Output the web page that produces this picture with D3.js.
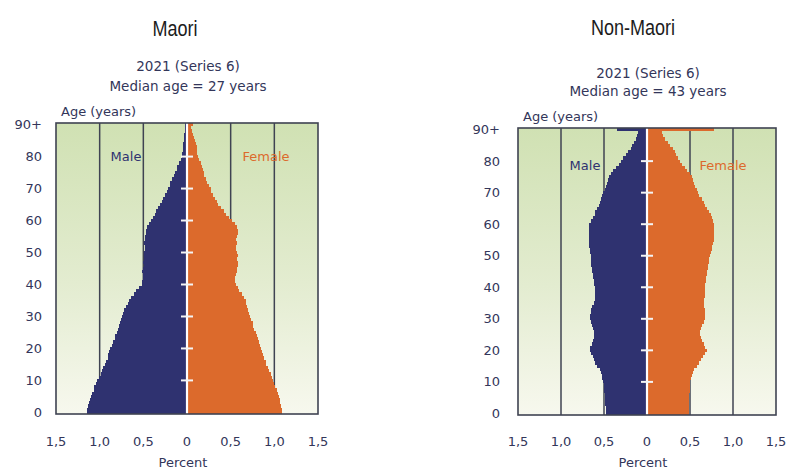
<!DOCTYPE html>
<html><head><meta charset="utf-8">
<script src="https://cdn.jsdelivr.net/npm/d3@7"></script>
<style>
html,body{margin:0;padding:0;background:#fff;}
svg{display:block;}
</style></head>
<body>
<svg id="chart" width="787" height="470"></svg>
<script>
// ---- DATA ----
const ages = d3.range(0, 91); // 0..90 (90 = 90+)
const yTickLabels = ["0","10","20","30","40","50","60","70","80","90+"];
const yTickAges = [0,10,20,30,40,50,60,70,80,90];
const xTickValues = [-1.5,-1,-0.5,0,0.5,1,1.5];
const xTickLabels = ["1,5","1,0","0,5","0","0,5","1,0","1,5"];
const panelTitles = ["Maori","Non-Maori"];
const panelSubtitles = ["2021 (Series 6)","2021 (Series 6)"];
const medianLabels = ["Median age = 27 years","Median age = 43 years"];

const maoriMale = [
 1.15,1.14,1.13,1.12,1.11,1.10,1.09,1.07,1.06,1.04,
 1.03,1.01,0.99,0.97,0.96,0.94,0.93,0.91,0.90,0.89,
 0.88,0.86,0.85,0.83,0.82,0.80,0.79,0.78,0.77,0.76,
 0.75,0.73,0.72,0.70,0.68,0.66,0.64,0.61,0.58,0.55,
 0.52,0.51,0.50,0.50,0.51,0.50,0.49,0.50,0.49,0.49,
 0.49,0.48,0.48,0.49,0.48,0.48,0.47,0.47,0.46,0.44,
 0.41,0.39,0.37,0.35,0.33,0.31,0.29,0.27,0.25,0.23,
 0.22,0.20,0.19,0.17,0.15,0.14,0.12,0.11,0.09,0.07,
 0.06,0.055,0.05,0.05,0.045,0.04,0.035,0.03,0.025,0.02,0.02];
const maoriFemale = [
 1.09,1.09,1.08,1.07,1.06,1.05,1.04,1.03,1.01,1.00,
 0.99,0.97,0.96,0.94,0.93,0.91,0.90,0.88,0.87,0.86,
 0.85,0.84,0.83,0.81,0.80,0.79,0.77,0.76,0.75,0.73,
 0.72,0.71,0.70,0.69,0.68,0.67,0.65,0.63,0.60,0.58,
 0.56,0.55,0.55,0.56,0.57,0.57,0.58,0.58,0.57,0.58,
 0.57,0.56,0.56,0.57,0.56,0.57,0.58,0.58,0.57,0.55,
 0.51,0.48,0.45,0.42,0.39,0.36,0.34,0.32,0.30,0.28,
 0.27,0.25,0.23,0.22,0.20,0.19,0.18,0.17,0.16,0.14,
 0.13,0.12,0.12,0.11,0.10,0.09,0.08,0.07,0.06,0.05,0.07];
const nonMaoriMale = [
 0.48,0.48,0.48,0.49,0.49,0.49,0.49,0.50,0.50,0.50,
 0.51,0.52,0.52,0.53,0.55,0.58,0.60,0.62,0.63,0.65,
 0.66,0.66,0.64,0.63,0.62,0.62,0.62,0.63,0.64,0.65,
 0.66,0.66,0.65,0.65,0.64,0.62,0.61,0.61,0.61,0.61,
 0.61,0.62,0.62,0.63,0.63,0.64,0.64,0.65,0.65,0.65,
 0.65,0.66,0.66,0.67,0.67,0.68,0.68,0.68,0.68,0.67,
 0.67,0.65,0.63,0.61,0.60,0.58,0.56,0.55,0.53,0.52,
 0.51,0.49,0.48,0.46,0.45,0.44,0.42,0.39,0.36,0.33,
 0.30,0.28,0.25,0.22,0.19,0.17,0.15,0.13,0.12,0.11,0.35];
const nonMaoriFemale = [
 0.49,0.49,0.49,0.49,0.49,0.49,0.49,0.50,0.50,0.50,
 0.50,0.51,0.52,0.53,0.55,0.58,0.61,0.63,0.65,0.67,
 0.70,0.68,0.66,0.64,0.63,0.62,0.62,0.63,0.64,0.66,
 0.68,0.68,0.67,0.67,0.66,0.66,0.66,0.67,0.67,0.68,
 0.68,0.68,0.69,0.69,0.70,0.70,0.71,0.71,0.72,0.72,
 0.73,0.74,0.75,0.76,0.77,0.78,0.78,0.78,0.78,0.78,
 0.78,0.77,0.76,0.74,0.72,0.70,0.68,0.66,0.64,0.61,
 0.59,0.58,0.56,0.55,0.54,0.52,0.50,0.47,0.44,0.41,
 0.38,0.36,0.34,0.32,0.30,0.27,0.24,0.21,0.19,0.17,0.78];

// ---- LAYOUT ----
const panels = [
  {title: panelTitles[0], sub: panelSubtitles[0], median: medianLabels[0], male: maoriMale, female: maoriFemale,
   x0: 56, x1: 318, top: 123, bottom: 414, titleX: 175, titleY: 36, subY: 71, medY: 91, ageLabY: 116, labelRight: 42, maleLab:[126,161], femLab:[266,161]},
  {title: panelTitles[1], sub: panelSubtitles[1], median: medianLabels[1], male: nonMaoriMale, female: nonMaoriFemale,
   x0: 518, x1: 776, top: 128, bottom: 415, titleX: 633, titleY: 35, subY: 78, medY: 96, ageLabY: 121, labelRight: 500, maleLab:[585,170], femLab:[723,170]}
];

const svg = d3.select("#chart");
const defs = svg.append("defs");
const grad = defs.append("linearGradient").attr("id","bg").attr("x1",0).attr("y1",0).attr("x2",0).attr("y2",1);
grad.append("stop").attr("offset","0%").attr("stop-color","#d0e1b3");
grad.append("stop").attr("offset","55%").attr("stop-color","#e3ecd0");
grad.append("stop").attr("offset","100%").attr("stop-color","#f7f8ee");

const navy = "#2f3270", orange = "#dc6a2c", frameCol = "#3f4352", txtCol = "#33365a";
const mainFont = "'DejaVu Sans', sans-serif";

panels.forEach(p => {
  const x = d3.scaleLinear().domain([-1.5,1.5]).range([p.x0,p.x1]);
  const y = d3.scaleLinear().domain([0,91]).range([p.bottom,p.top]);
  const cx = x(0);
  const g = svg.append("g");

  // title (narrow)
  g.append("text").attr("transform",`translate(${p.titleX},${p.titleY}) scale(0.82,1)`)
    .attr("text-anchor","middle")
    .attr("font-family","'Liberation Sans', Arial, sans-serif").attr("font-size",22)
    .attr("fill","#1c1c1c").text(p.title);
  g.append("text").attr("x",cx+1).attr("y",p.subY).attr("text-anchor","middle")
    .attr("font-family",mainFont).attr("font-size",13.5).attr("fill",txtCol).text(p.sub);
  g.append("text").attr("x",cx+1).attr("y",p.medY).attr("text-anchor","middle")
    .attr("font-family",mainFont).attr("font-size",13.5).attr("fill",txtCol).text(p.median);
  g.append("text").attr("x",p.x0+5).attr("y",p.ageLabY).attr("text-anchor","start")
    .attr("font-family",mainFont).attr("font-size",13).attr("fill",txtCol).text("Age (years)");

  // background
  g.append("rect").attr("x",p.x0).attr("y",p.top).attr("width",p.x1-p.x0).attr("height",p.bottom-p.top)
    .attr("fill","url(#bg)");

  // grid lines
  g.selectAll("line.grid").data([-1,-0.5,0.5,1]).join("line").attr("class","grid")
    .attr("x1",d=>x(d)).attr("x2",d=>x(d)).attr("y1",p.top).attr("y2",p.bottom)
    .attr("stroke",frameCol).attr("stroke-width",1.5);

  // group labels
  g.append("text").attr("x",p.maleLab[0]).attr("y",p.maleLab[1]).attr("text-anchor","middle")
    .attr("font-family",mainFont).attr("font-size",13).attr("fill",navy).text("Male");
  g.append("text").attr("x",p.femLab[0]).attr("y",p.femLab[1]).attr("text-anchor","middle")
    .attr("font-family",mainFont).attr("font-size",13).attr("fill",orange).text("Female");

  // bars (pixel-snapped rows to avoid seams)
  const rowTop = a => Math.round(y(a+1));
  const rowH = a => Math.round(y(a)) - Math.round(y(a+1));
  g.selectAll("rect.m").data(ages).join("rect").attr("class","m")
    .attr("x",a=>x(-p.male[a])).attr("width",a=>Math.max(0,cx-1.2-x(-p.male[a])))
    .attr("y",rowTop).attr("height",rowH).attr("fill",navy).attr("shape-rendering","crispEdges");
  g.selectAll("rect.f").data(ages).join("rect").attr("class","f")
    .attr("x",cx+1.2).attr("width",a=>Math.max(0,x(p.female[a])-cx-1.2))
    .attr("y",rowTop).attr("height",rowH).attr("fill",orange).attr("shape-rendering","crispEdges");

  // center white line & ticks
  g.append("line").attr("x1",cx).attr("x2",cx).attr("y1",p.top).attr("y2",p.bottom)
    .attr("stroke","#fff").attr("stroke-width",2.2);
  g.selectAll("line.ct").data(d3.range(10,90,10)).join("line").attr("class","ct")
    .attr("x1",cx-6).attr("x2",cx+6).attr("y1",a=>y(a+0.5)).attr("y2",a=>y(a+0.5))
    .attr("stroke","#f4f4f4").attr("stroke-width",2);

  // frame
  g.append("rect").attr("x",p.x0).attr("y",p.top).attr("width",p.x1-p.x0).attr("height",p.bottom-p.top)
    .attr("fill","none").attr("stroke",frameCol).attr("stroke-width",1.6);

  // y tick labels
  g.selectAll("text.yt").data(yTickAges).join("text").attr("class","yt")
    .attr("x",p.labelRight).attr("y",a=>y(a+0.5)+4.5).attr("text-anchor","end")
    .attr("font-family",mainFont).attr("font-size",13).attr("fill",txtCol)
    .text((a,i)=>yTickLabels[i]);

  // x tick labels
  g.selectAll("text.xt").data(xTickValues).join("text").attr("class","xt")
    .attr("x",d=>x(d)).attr("y",446).attr("text-anchor","middle")
    .attr("font-family",mainFont).attr("font-size",13).attr("fill",txtCol)
    .text((d,i)=>xTickLabels[i]);
  g.append("text").attr("x",cx-4).attr("y",467).attr("text-anchor","middle")
    .attr("font-family",mainFont).attr("font-size",13).attr("fill",txtCol).text("Percent");
});
</script>
</body></html>
